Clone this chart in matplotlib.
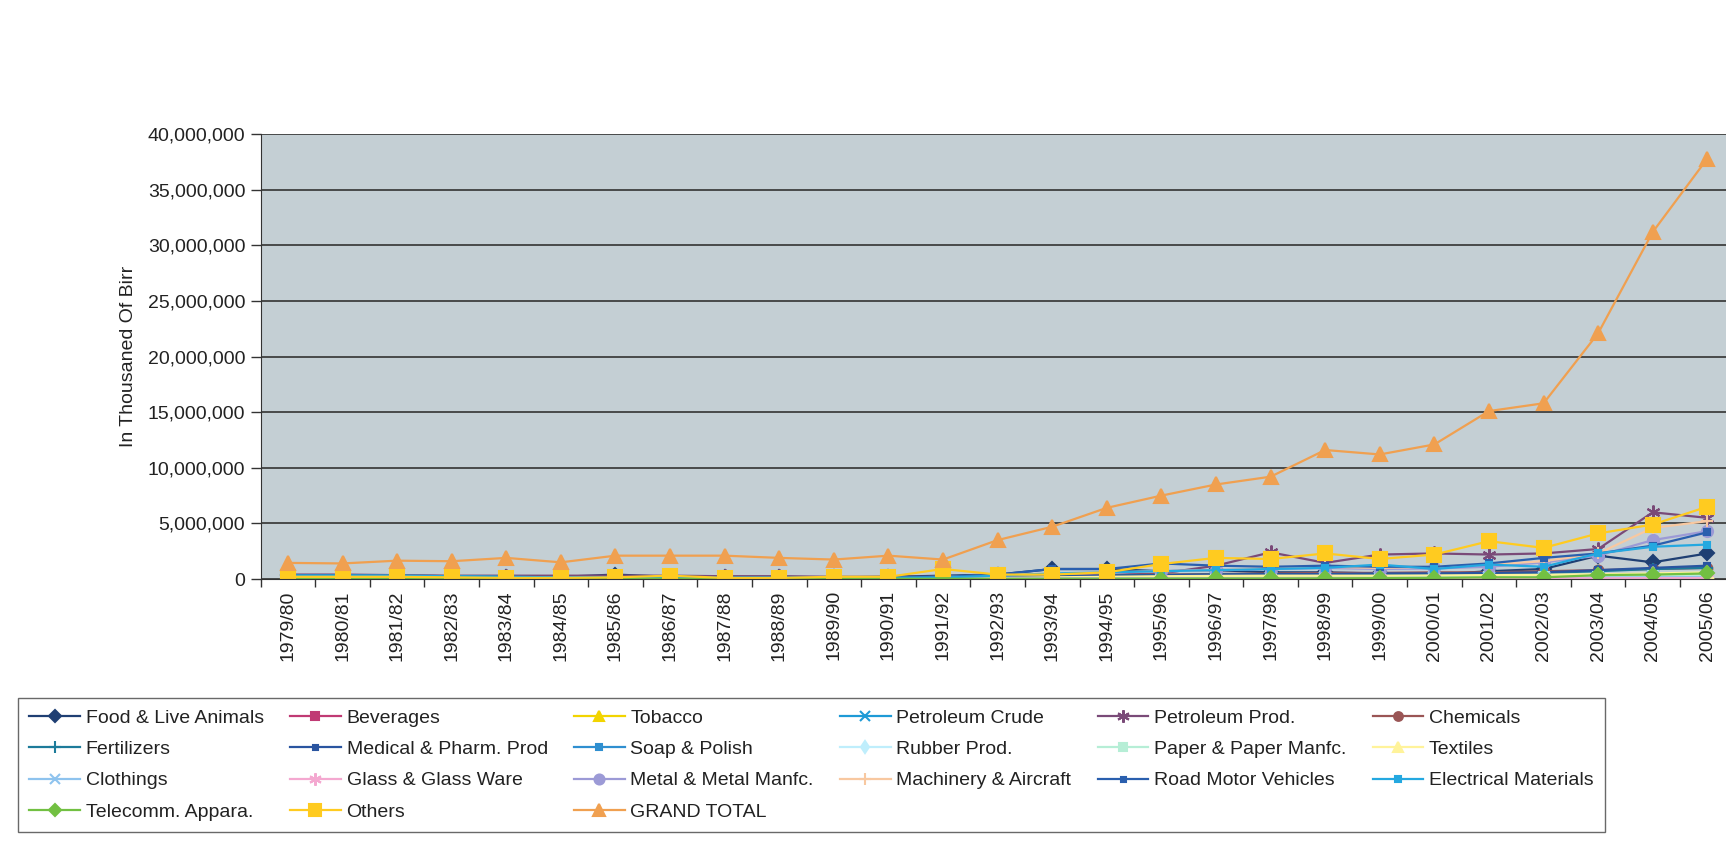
import numpy as np
import matplotlib
matplotlib.use('Agg')
import matplotlib.pyplot as plt
from matplotlib.ticker import FuncFormatter, FixedLocator

plt.rcParams['font.family'] = ['Liberation Sans', 'DejaVu Sans']

years = ['1979/80', '1980/81', '1981/82', '1982/83', '1983/84', '1984/85', '1985/86',
         '1986/87', '1987/88', '1988/89', '1989/90', '1990/91', '1991/92', '1992/93',
         '1993/94', '1994/95', '1995/96', '1996/97', '1997/98', '1998/99', '1999/00',
         '2000/01', '2001/02', '2002/03', '2003/04', '2004/05', '2005/06']

# import values, million (thousand birr x 1000)
food        = [0.35, 0.35, 0.30, 0.25, 0.20, 0.20, 0.40, 0.20, 0.20, 0.20, 0.15, 0.20, 0.30, 0.40,
               0.90, 0.90, 0.70, 0.80, 0.60, 0.60, 0.50, 0.40, 0.70, 0.90, 2.10, 1.50, 2.30]
beverages   = [0.02, 0.02, 0.02, 0.02, 0.02, 0.02, 0.02, 0.02, 0.02, 0.02, 0.02, 0.02, 0.02, 0.03,
               0.03, 0.04, 0.05, 0.05, 0.06, 0.06, 0.07, 0.07, 0.08, 0.08, 0.10, 0.12, 0.15]
tobacco     = [0.05, 0.05, 0.05, 0.05, 0.04, 0.04, 0.04, 0.04, 0.04, 0.04, 0.03, 0.03, 0.04, 0.05,
               0.06, 0.08, 0.10, 0.12, 0.13, 0.14, 0.15, 0.15, 0.16, 0.18, 0.20, 0.22, 0.25]
pet_crude   = [0.10, 0.10, 0.10, 0.10, 0.08, 0.08, 0.08, 0.08, 0.06, 0.06, 0.05, 0.05, 0.05, 0.05,
               0.06, 0.06, 0.06, 0.05, 0.05, 0.05, 0.05, 0.05, 0.05, 0.05, 0.05, 0.05, 0.05]
pet_prod    = [0.40, 0.40, 0.35, 0.30, 0.30, 0.30, 0.30, 0.30, 0.25, 0.25, 0.20, 0.20, 0.20, 0.30,
               0.40, 0.40, 0.50, 1.20, 2.40, 1.45, 2.20, 2.30, 2.20, 2.30, 2.70, 6.00, 5.50]
chemicals   = [0.15, 0.15, 0.15, 0.15, 0.12, 0.12, 0.12, 0.12, 0.10, 0.10, 0.10, 0.10, 0.12, 0.20,
               0.30, 0.35, 0.40, 0.45, 0.50, 0.55, 0.55, 0.60, 0.60, 0.70, 0.80, 0.90, 1.00]
fertilizers = [0.10, 0.10, 0.12, 0.12, 0.10, 0.10, 0.10, 0.10, 0.08, 0.08, 0.08, 0.08, 0.10, 0.15,
               0.20, 0.30, 0.35, 0.40, 0.40, 0.40, 0.45, 0.45, 0.50, 0.55, 0.70, 0.90, 1.00]
medical     = [0.15, 0.15, 0.15, 0.12, 0.12, 0.10, 0.10, 0.10, 0.10, 0.08, 0.08, 0.08, 0.10, 0.15,
               0.25, 0.30, 0.35, 0.40, 0.45, 0.45, 0.50, 0.50, 0.55, 0.60, 0.80, 1.00, 1.20]
soap        = [0.35, 0.35, 0.30, 0.25, 0.20, 0.15, 0.12, 0.10, 0.08, 0.08, 0.06, 0.06, 0.05, 0.05,
               0.06, 0.06, 0.07, 0.07, 0.08, 0.08, 0.08, 0.08, 0.08, 0.06, 0.05, 0.04, 0.03]
rubber      = [0.03, 0.03, 0.03, 0.03, 0.03, 0.03, 0.03, 0.03, 0.03, 0.03, 0.02, 0.02, 0.03, 0.04,
               0.05, 0.06, 0.07, 0.08, 0.08, 0.09, 0.09, 0.10, 0.10, 0.11, 0.12, 0.14, 0.16]
paper       = [0.05, 0.05, 0.05, 0.05, 0.04, 0.04, 0.04, 0.04, 0.04, 0.04, 0.03, 0.03, 0.04, 0.06,
               0.08, 0.10, 0.12, 0.14, 0.15, 0.16, 0.16, 0.17, 0.18, 0.20, 0.22, 0.25, 0.28]
textiles    = [0.08, 0.08, 0.08, 0.07, 0.07, 0.06, 0.06, 0.06, 0.05, 0.05, 0.05, 0.05, 0.07, 0.10,
               0.15, 0.20, 0.25, 0.28, 0.30, 0.30, 0.30, 0.32, 0.35, 0.38, 0.42, 0.50, 0.60]
clothings   = [0.03, 0.03, 0.03, 0.03, 0.03, 0.03, 0.03, 0.03, 0.02, 0.02, 0.02, 0.02, 0.03, 0.04,
               0.05, 0.06, 0.07, 0.08, 0.08, 0.09, 0.09, 0.10, 0.10, 0.11, 0.13, 0.15, 0.18]
glass       = [0.02, 0.02, 0.02, 0.02, 0.02, 0.02, 0.02, 0.02, 0.02, 0.02, 0.02, 0.02, 0.02, 0.02,
               0.03, 0.03, 0.04, 0.04, 0.04, 0.05, 0.05, 0.05, 0.06, 0.06, 0.07, 0.08, 0.09]
metal       = [0.20, 0.20, 0.20, 0.15, 0.15, 0.12, 0.12, 0.12, 0.10, 0.10, 0.10, 0.10, 0.15, 0.30,
               0.45, 0.55, 0.70, 0.80, 0.90, 1.00, 0.90, 0.95, 1.10, 1.50, 2.10, 3.50, 4.30]
machinery   = [0.20, 0.20, 0.20, 0.15, 0.15, 0.12, 0.12, 0.12, 0.10, 0.10, 0.10, 0.10, 0.20, 0.35,
               0.50, 0.60, 0.70, 0.80, 1.00, 1.10, 1.00, 1.10, 1.30, 1.60, 2.30, 4.60, 5.20]
road        = [0.30, 0.30, 0.25, 0.20, 0.15, 0.10, 0.15, 0.20, 0.15, 0.15, 0.10, 0.15, 0.20, 0.40,
               0.90, 0.90, 1.40, 1.20, 1.10, 1.20, 1.10, 1.10, 1.40, 1.90, 2.30, 3.00, 4.20]
electrical  = [0.30, 0.30, 0.30, 0.25, 0.20, 0.15, 0.15, 0.15, 0.12, 0.12, 0.10, 0.10, 0.15, 0.30,
               0.50, 0.60, 0.70, 0.80, 0.90, 1.00, 1.30, 0.90, 1.30, 1.10, 2.30, 2.90, 3.10]
telecomm    = [0.02, 0.02, 0.02, 0.02, 0.02, 0.02, 0.02, 0.02, 0.02, 0.02, 0.02, 0.02, 0.02, 0.02,
               0.03, 0.03, 0.04, 0.05, 0.05, 0.06, 0.08, 0.10, 0.15, 0.15, 0.35, 0.40, 0.50]
others      = [0.20, 0.20, 0.20, 0.15, 0.10, 0.10, 0.15, 0.30, 0.10, 0.10, 0.20, 0.20, 0.90, 0.40,
               0.40, 0.60, 1.35, 1.90, 1.80, 2.30, 1.80, 2.20, 3.40, 2.80, 4.10, 4.90, 6.50]
grand_total = [1.45, 1.40, 1.65, 1.60, 1.90, 1.50, 2.10, 2.10, 2.10, 1.90, 1.75, 2.10, 1.75, 3.50,
               4.70, 6.40, 7.50, 8.50, 9.20, 11.60, 11.20, 12.10, 15.10, 15.80, 22.10, 31.20, 37.80]

asterisk = (6, 2, 0)

# (label, values, color, marker, markersize)
series = [
    ('Food & Live Animals', food, '#1f3f73', 'D', 7),
    ('Beverages', beverages, '#c03a74', 's', 7),
    ('Tobacco', tobacco, '#f2d400', '^', 8),
    ('Petroleum Crude', pet_crude, '#1e9ad6', 'x', 8),
    ('Petroleum Prod.', pet_prod, '#7a4a78', asterisk, 10),
    ('Chemicals', chemicals, '#9a5555', 'o', 7),
    ('Fertilizers', fertilizers, '#1d7b9a', '+', 9),
    ('Medical & Pharm. Prod', medical, '#2a55a0', 's', 4),
    ('Soap & Polish', soap, '#2f8fd0', 's', 5),
    ('Rubber Prod.', rubber, '#bfeefc', 'd', 7),
    ('Paper & Paper Manfc.', paper, '#b6eed6', 's', 7),
    ('Textiles', textiles, '#fff39a', '^', 8),
    ('Clothings', clothings, '#8ec3ee', 'x', 8),
    ('Glass & Glass Ware', glass, '#f4a8d0', asterisk, 10),
    ('Metal & Metal Manfc.', metal, '#9c9ad6', 'o', 8),
    ('Machinery & Aircraft', machinery, '#f8c8a0', '+', 9),
    ('Road Motor Vehicles', road, '#2a5fae', 's', 4),
    ('Electrical Materials', electrical, '#24a8e0', 's', 5),
    ('Telecomm. Appara.', telecomm, '#72c042', 'D', 7),
    ('Others', others, '#ffcb20', 's', 10),
    ('GRAND TOTAL', grand_total, '#f0a050', '^', 10),
]

fig = plt.figure(figsize=(17.26, 8.49), dpi=100)
ax = fig.add_axes([0.151, 0.318, 0.854, 0.524])
ax.set_facecolor('#c4cfd4')

x = np.arange(len(years))
handles = {}
for name, vals, color, marker, ms in series:
    line, = ax.plot(x, np.array(vals) * 1e6, color=color, lw=1.6, marker=marker,
                    ms=ms, mec=color, mfc=color, mew=1.5, label=name)
    handles[name] = line

ax.set_xlim(-0.5, len(years) - 0.5)
ax.set_ylim(0, 40e6)
ax.set_yticks(np.arange(0, 40e6 + 1, 5e6))
ax.yaxis.set_major_formatter(FuncFormatter(lambda v, p: f'{int(v):,}'))
ax.grid(axis='y', color='#333333', lw=1.2)
ax.set_axisbelow(True)

# category labels, tick marks sit between categories
ax.set_xticks(x)
ax.set_xticklabels(years, rotation=90)
ax.xaxis.set_minor_locator(FixedLocator(np.arange(-0.5, len(years), 1)))
ax.tick_params(axis='x', which='major', length=0, pad=8, labelsize=14, colors='#222222')
ax.tick_params(axis='x', which='minor', length=6, width=1, color='#333333')
ax.tick_params(axis='y', length=7, width=1, color='#333333', labelsize=14,
               colors='#222222', pad=4)

for side in ['top', 'right']:
    ax.spines[side].set_visible(False)
ax.spines['left'].set_color('#333333')
ax.spines['bottom'].set_color('#333333')

ax.set_ylabel('In Thousaned Of Birr', fontsize=14, color='#222222', labelpad=8)

# legend laid out row by row, 6 across
rows = [
    ['Food & Live Animals', 'Beverages', 'Tobacco', 'Petroleum Crude', 'Petroleum Prod.', 'Chemicals'],
    ['Fertilizers', 'Medical & Pharm. Prod', 'Soap & Polish', 'Rubber Prod.', 'Paper & Paper Manfc.', 'Textiles'],
    ['Clothings', 'Glass & Glass Ware', 'Metal & Metal Manfc.', 'Machinery & Aircraft', 'Road Motor Vehicles', 'Electrical Materials'],
    ['Telecomm. Appara.', 'Others', 'GRAND TOTAL'],
]
order = []
for col in range(6):
    for row in rows:
        if col < len(row):
            order.append(row[col])

leg = fig.legend([handles[n] for n in order], order, loc='upper left',
                 bbox_to_anchor=(8 / 1726, 1 - 688 / 849), ncol=6, fontsize=14,
                 frameon=True, fancybox=False, edgecolor='#444444', handlelength=2.6,
                 handletextpad=0.3, columnspacing=1.35, labelspacing=0.7,
                 borderpad=0.6, markerscale=0.9)
leg.get_frame().set_linewidth(1.0)
for t in leg.get_texts():
    t.set_color('#222222')

fig.savefig('out.png', dpi=100, facecolor='white')
